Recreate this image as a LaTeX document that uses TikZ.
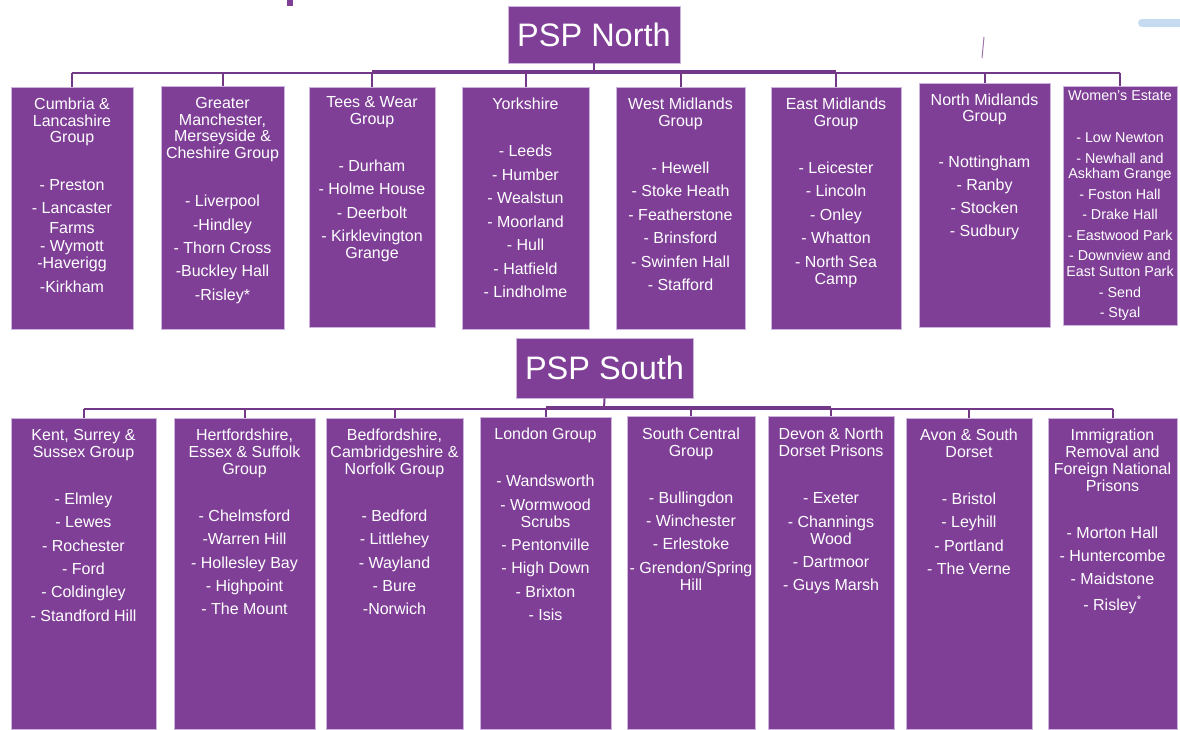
\documentclass[tikz,border=0pt]{standalone}
\usepackage{fontspec}
\setmainfont{Liberation Sans}
\definecolor{boxfill}{RGB}{127,63,151}
\definecolor{boxedge}{RGB}{205,180,220}
\definecolor{linec}{RGB}{116,56,136}
\definecolor{bluebar}{RGB}{197,220,240}
\tikzset{
  grp/.style={draw=boxedge, line width=0.8pt, fill=boxfill, inner sep=0pt},
  ttl/.style={draw=boxedge, line width=0.8pt, fill=boxfill, text=white, inner sep=0pt,
              font=\fontsize{32.5}{34}\selectfont},
  txt/.style={text=white, inner sep=0pt, anchor=base, font=\fontsize{16}{17}\selectfont},
  txts/.style={text=white, inner sep=0pt, anchor=base, font=\fontsize{14.3}{15}\selectfont},
  conn/.style={draw=linec, line width=2pt},
  connthick/.style={draw=linec, line width=3.6pt},
}
\newcommand\grpbox[5]{\node[grp, minimum width=#3pt-#2pt, minimum height=#5pt-#4pt] (#1) at ({(#2+#3)/2},{(#4+#5)/2}) {};}
\newcommand\grplines[3][txt]{\foreach \yy/\txtl [count=\i] in {#3} \node[#1] (#2-\i) at (#2.north |- 0,\yy) {\txtl};}
\begin{document}
\begin{tikzpicture}[x=1pt,y=-1pt]
\useasboundingbox (0,0) rectangle (1180,729);
% small artifacts at the top
\fill[boxfill] (287,0) rectangle (293,6);
\fill[bluebar, rounded corners=4pt] (1138,19) rectangle (1190,27);
\draw[linec!70, line width=1pt] (984,37) -- (982,58);

% ---------------- PSP North ----------------
\node[ttl, minimum width=172pt, minimum height=57pt] (pn) at (594,34.5) {PSP North};
\grpbox{n1}{11}{133}{87}{329}
\grpbox{n2}{161}{284}{86}{329}
\grpbox{n3}{309}{435}{87}{327}
\grpbox{n4}{462}{589}{87}{329}
\grpbox{n5}{616}{745}{87}{329}
\grpbox{n6}{771}{901}{87}{329}
\grpbox{n7}{919}{1050}{83}{327}
\grpbox{n8}{1063}{1177}{86}{325}

\coordinate (busN) at (594,72.5);
\coordinate (busNt) at (594,71.6);
\draw[conn] (pn.south) -- (busN);
\draw[conn] (n1.north |- busN) -- (n8.north |- busN);
\draw[connthick] (n3.north |- busNt) -- (n6.north |- busNt);
\foreach \n in {n1,n2,n3,n4,n5,n6,n7,n8} \draw[conn] (\n.north |- busN) -- (\n.north);

\grplines{n1}{109/{Cumbria \&},126/Lancashire,142/Group,190/- Preston,213/- Lancaster,233/Farms,251/- Wymott,268/-Haverigg,292/-Kirkham}
\grplines{n2}{108/Greater,125/{Manchester,},141.5/{Merseyside \&},158/Cheshire Group,206/- Liverpool,230/-Hindley,253/- Thorn Cross,276.5/-Buckley Hall,300.5/-Risley*}
\grplines{n3}{107/{Tees \& Wear},124/Group,171/- Durham,194/- Holme House,218/- Deerbolt,241/- Kirklevington,258/Grange}
\grplines{n4}{109/Yorkshire,156/- Leeds,180/- Humber,203/- Wealstun,227/- Moorland,250/- Hull,274/- Hatfield,297/- Lindholme}
\grplines{n5}{109/West Midlands,126/Group,173/- Hewell,196/- Stoke Heath,220/- Featherstone,243/- Brinsford,267/- Swinfen Hall,290/- Stafford}
\grplines{n6}{109/East Midlands,126/Group,173/- Leicester,196/- Lincoln,220/- Onley,243/- Whatton,267/- North Sea,284/Camp}
\grplines{n7}{105/North Midlands,121.5/Group,167/- Nottingham,190/- Ranby,213/- Stocken,236.5/- Sudbury}
\grplines[txts]{n8}{100/Women's Estate,142.5/- Low Newton,163/- Newhall and,178/Askham Grange,199/- Foston Hall,219/- Drake Hall,240.5/- Eastwood Park,260.5/- Downview and,276.5/East Sutton Park,297/- Send,317/- Styal}

% ---------------- PSP South ----------------
\node[ttl, minimum width=177pt, minimum height=60pt] (ps) at (604.5,368) {PSP South};
\grpbox{s1}{11}{156}{418}{729}
\grpbox{s2}{174}{315}{418}{729}
\grpbox{s3}{326}{463}{418}{729}
\grpbox{s4}{480}{611}{417}{729}
\grpbox{s5}{627}{755}{416}{729}
\grpbox{s6}{768}{894}{416}{729}
\grpbox{s7}{906}{1032}{418}{729}
\grpbox{s8}{1048}{1177}{418}{729}

\coordinate (busS) at (604,408.5);
\coordinate (busSt) at (604,407.8);
\draw[conn] (ps.south) -- (busS);
\draw[conn] (s1.north |- busS) -- (s8.north |- busS);
\draw[connthick] (s4.north |- busSt) -- (s6.north |- busSt);
\foreach \n in {s1,s2,s3,s4,s5,s6,s7,s8} \draw[conn] (\n.north |- busS) -- (\n.north);

\grplines{s1}{440/{Kent, Surrey \&},457/Sussex Group,504/- Elmley,527/- Lewes,551/- Rochester,574/- Ford,597/- Coldingley,621/- Standford Hill}
\grplines{s2}{440/{Hertfordshire,},457/{Essex \& Suffolk},474/Group,521/- Chelmsford,544/-Warren Hill,568/- Hollesley Bay,591/- Highpoint,614/- The Mount}
\grplines{s3}{440/{Bedfordshire,},457/{Cambridgeshire \&},474/Norfolk Group,521/- Bedford,544/- Littlehey,568/- Wayland,591/- Bure,614/-Norwich}
\grplines{s4}{439/London Group,486/- Wandsworth,510/- Wormwood,527/Scrubs,550/- Pentonville,573/- High Down,597/- Brixton,620/- Isis}
\grplines{s5}{439/South Central,456/Group,503/- Bullingdon,526/- Winchester,549/- Erlestoke,573/{- Grendon/Spring},590/Hill}
\grplines{s6}{439/{Devon \& North},456/Dorset Prisons,503/- Exeter,527/- Channings,544/Wood,567/- Dartmoor,590/- Guys Marsh}
\grplines{s7}{440/{Avon \& South},457/Dorset,504/- Bristol,527/- Leyhill,551/- Portland,574/- The Verne}
\grplines{s8}{440/Immigration,457/Removal and,474/Foreign National,491/Prisons,538/- Morton Hall,561/- Huntercombe,584/- Maidstone,610/{- Risley\textsuperscript{*}}}
\end{tikzpicture}
\end{document}
